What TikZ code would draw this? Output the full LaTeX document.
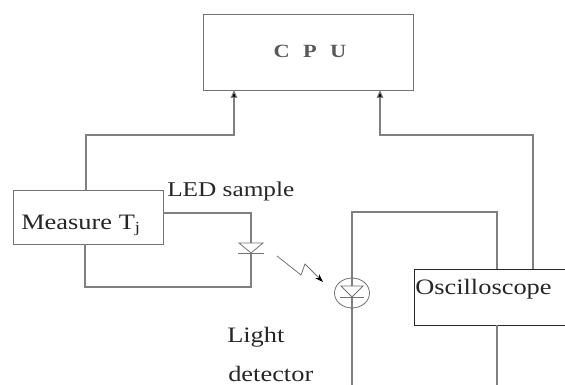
\documentclass[tikz,border=0pt]{standalone}
\usepackage{fontspec}
\setmainfont[FakeStretch=1.2]{Liberation Serif}
\usetikzlibrary{arrows.meta}
\tikzset{
  x=0.75pt,y=-0.75pt,
  wire/.style={draw=black!50,line width=0.8pt},
  sym/.style={draw=black!55,line width=0.6pt},
  frame/.style={draw=black!55,fill=white,line width=1pt,inner sep=0pt},
  bbox/.style={draw=black!85,fill=white,line width=0.9pt,inner sep=0pt},
  lab/.style={inner sep=0pt,font=\fontsize{16.5}{18}\selectfont,text=black!85},
  arr/.style={-{Triangle[length=6pt,width=5pt,fill=black]}}
}
\begin{document}
\begin{tikzpicture}
\useasboundingbox (0,0) rectangle (565,385);
\fill[white] (0,0) rectangle (565,385);
% boxes
\node[frame,minimum width=210*0.75pt,minimum height=76*0.75pt,anchor=north west] (cpu) at (203,14) {};
\node[inner sep=0pt,font=\fontsize{14}{16}\selectfont\bfseries,text=black!65,anchor=base] (cputext) at (310,58) {C\hspace{10pt}P\hspace{10pt}U};
\node[frame,minimum width=150*0.75pt,minimum height=54*0.75pt,anchor=north west] (meas) at (13,190) {};
\node[bbox,minimum width=152*0.75pt,minimum height=56*0.75pt,anchor=north west] (osc) at (414,269) {};
\coordinate (cpuL) at (234,90);
\coordinate (cpuR) at (380,90);
\coordinate (measT) at (86,190);
\coordinate (measR) at (163,213);
\coordinate (measB) at (85,244);
\coordinate (oscT) at (533,269);
\coordinate (oscTL) at (497,269);
\coordinate (oscB) at (497,325);
\coordinate (endA) at (497,385);
\coordinate (endB) at (352,385);
\coordinate (detTop) at (352,286);
\coordinate (detBot) at (352,297);
\coordinate (ledTop) at (251,243);
\coordinate (ledBot) at (251,253);
\coordinate (det) at (352,293);
% wires
\draw[wire,arr] (measT) -- (86,135) -- (234,135) -- (cpuL);
\draw[wire,arr] (oscT) -- (533,135) -- (380,135) -- (cpuR);
\draw[wire] (measR) -- (251,213) -- (ledTop);
\draw[wire] (ledBot) -- (251,287) -- (85,287) -- (measB);
\draw[wire] (detTop) -- (352,212) -- (497,212) -- (oscTL);
\draw[wire] (detBot) -- (endB);
\draw[wire] (oscB) -- (endA);
% LED symbol
\draw[sym] (239,243) -- (263,243) -- (ledBot) -- cycle;
\draw[sym] (238,253) -- (264,253);
% flash
\draw[sym,-{Stealth[length=6pt,width=4pt,black]}] (277,256) -- (301,275) -- (305,264) -- (323,282);
% detector symbol
\draw[sym] (det) ellipse (17.5 and 15);
\draw[sym] (341,286) -- (363,286) -- (detBot) -- cycle;
\draw[sym] (340,297) -- (364,297);
% labels
\node[lab,anchor=base west,font=\fontsize{15.8}{18}\selectfont] (ledlab) at (167,196) {LED sample};
\node[lab,anchor=base west] (measlab) at (21,229) {Measure T\textsubscript{j}};
\node[lab,anchor=base west] (osclab) at (415,295) {Oscilloscope};
\node[lab,anchor=base west] (light) at (227,342) {Light};
\node[lab,anchor=base west] (detlab) at (228,381) {detector};
\end{tikzpicture}
\end{document}
